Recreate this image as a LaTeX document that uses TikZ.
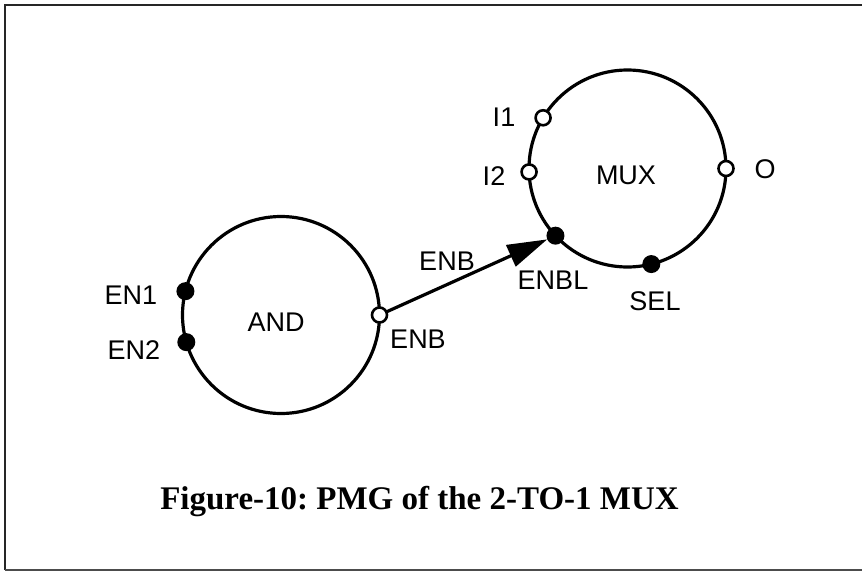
\documentclass[tikz,border=0pt]{standalone}
\usepackage{fontspec}
\setmainfont{Liberation Serif}
\newfontfamily\lblfont{Liberation Sans}
\usetikzlibrary{arrows.meta}
\frenchspacing
\begin{document}
\begin{tikzpicture}[x=1pt,y=-1pt,
  blob/.style={circle,draw,line width=3.2pt,minimum size=197pt,inner sep=0pt,outer sep=0pt},
  fport/.style={circle,fill=black,minimum size=18pt,inner sep=0pt,outer sep=0pt},
  oport/.style={circle,draw,fill=white,line width=2.6pt,minimum size=15pt,inner sep=0pt,outer sep=0pt},
  lbl/.style={font=\lblfont\fontsize{27}{29}\selectfont,inner sep=0pt},
  frame/.style={line width=2pt,draw=black!85}]
\useasboundingbox (0,0) rectangle (862,573);
% frame
\draw[frame] (5,570) -- (5,5) -- (862,5);
\draw[frame,draw=black!70] (5,570) -- (862,570);
% modules
\node[blob,label={[lbl,xshift=-5pt,yshift=-7pt]center:AND}] (and) at (281,315) {};
\node[blob,label={[lbl,xshift=-1.5pt,yshift=-7pt]center:MUX}] (mux) at (627.5,168.5) {};
% ports
\node[fport] (en1) at (and.166) {};
\node[fport] (en2) at (and.196) {};
\node[oport] (enb) at (and.0) {};
\node[oport] (i1) at (mux.149) {};
\node[oport] (i2) at (mux.182.6) {};
\node[oport] (o) at (mux.0) {};
\node[fport] (enbl) at (mux.223) {};
\node[fport] (sel) at (mux.284) {};
% connector
\draw[line width=3.2pt,-{Triangle[length=40pt,width=23pt]}] (enb) -- (enbl);
% labels
\node[lbl] (len1) at (131,295) {EN1};
\node[lbl] (len2) at (134,350) {EN2};
\node[lbl] (lenb) at (418,339) {ENB};
\node[lbl] (lenb2) at (447,261) {ENB};
\node[lbl] (lenbl) at (553,280) {ENBL};
\node[lbl] (lsel) at (655,301) {SEL};
\node[lbl] (li1) at (504,117) {I1};
\node[lbl] (li2) at (494,176) {I2};
\node[lbl] (lo) at (765,169) {O};
% caption
\node[font=\bfseries\fontsize{33}{36}\selectfont,inner sep=0pt] (cap) at (419.5,502) {Figure-10: PMG of the 2-TO-1 MUX};
\end{tikzpicture}
\end{document}
